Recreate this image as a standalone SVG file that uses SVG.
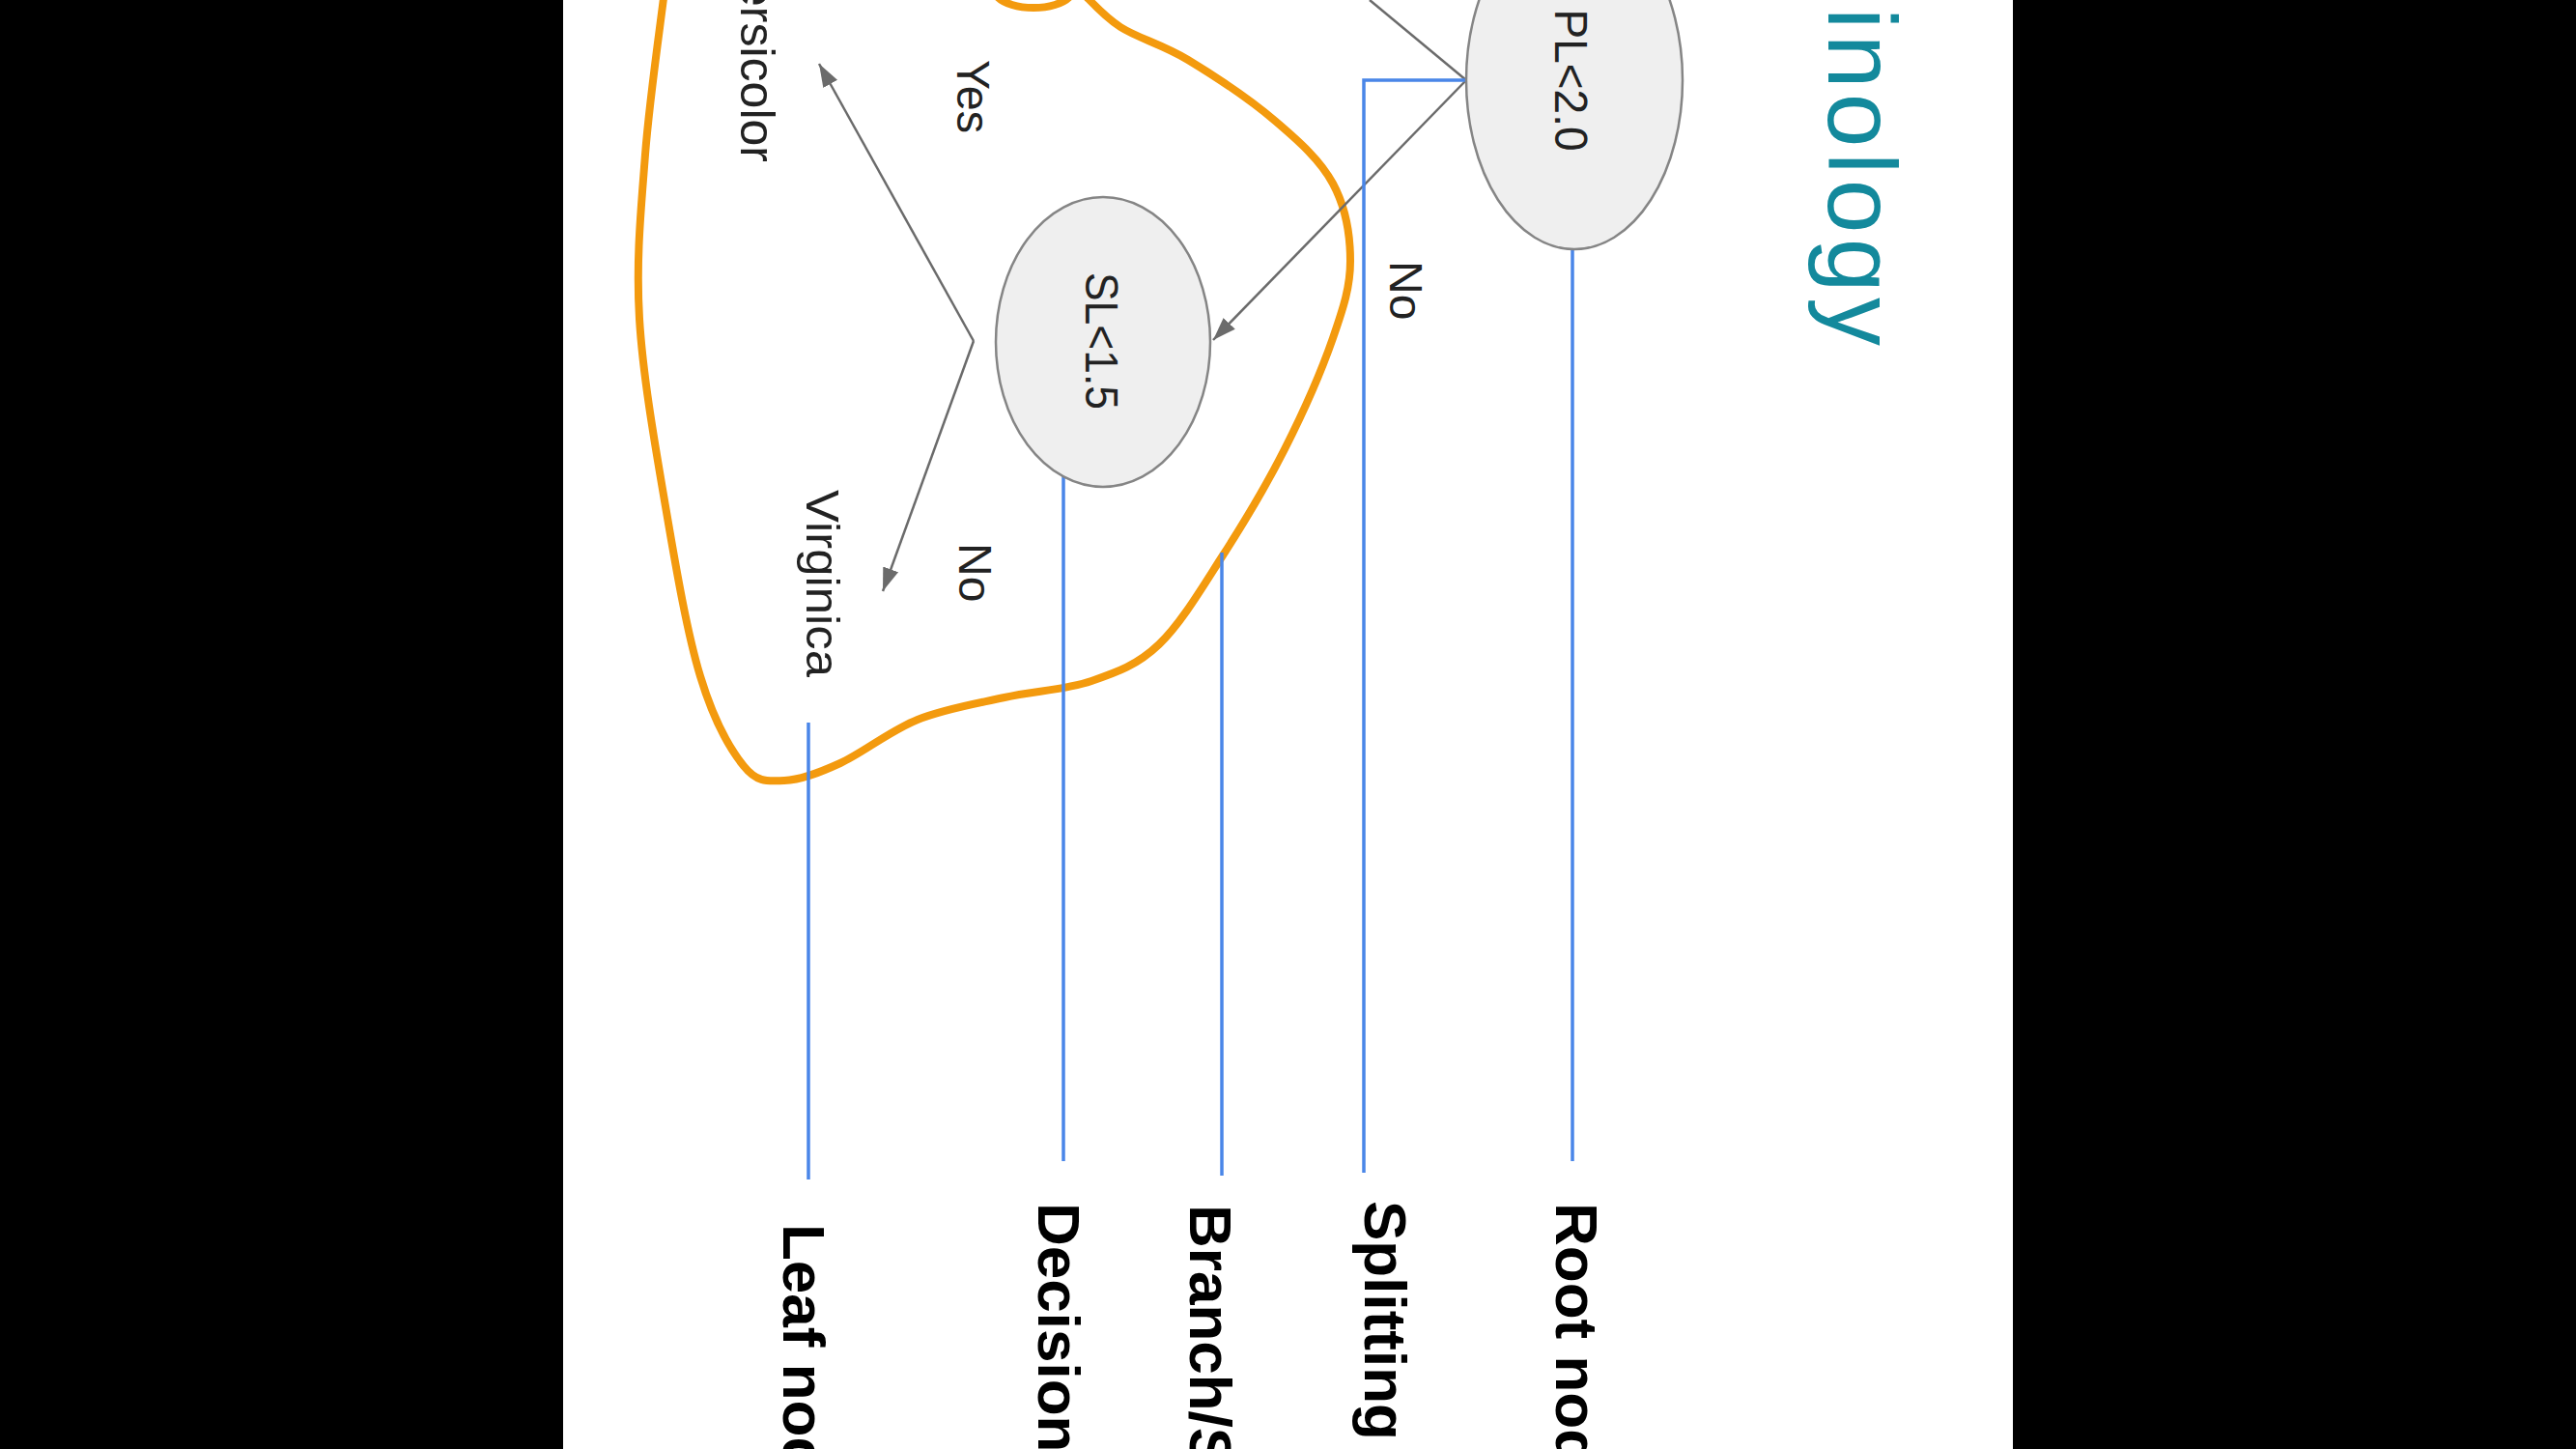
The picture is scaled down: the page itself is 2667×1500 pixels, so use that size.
<svg xmlns="http://www.w3.org/2000/svg" width="2667" height="1500" viewBox="0 0 2667 1500">
<defs>
<style>
.lbl{font-family:"Liberation Sans",Arial,sans-serif;font-size:48px;fill:#222;}
.big{font-family:"Liberation Sans",Arial,sans-serif;font-size:62px;font-weight:bold;fill:#000;}
.ttl{font-family:"Liberation Sans",Arial,sans-serif;font-size:100px;fill:#13899c;}
.node{fill:#efefef;stroke:#858585;stroke-width:2.5;}
.gray{fill:none;stroke:#6b6b6b;stroke-width:2.5;}
.blue{fill:none;stroke:#4a86e8;stroke-width:3.5;}
.orange{fill:none;stroke:#f39a0e;stroke-width:8;stroke-linecap:round;}
</style>
<marker id="arr" viewBox="0 0 10 10" refX="10" refY="5" markerWidth="24" markerHeight="24" markerUnits="userSpaceOnUse" orient="auto">
<path d="M0,1.5 L10,5 L0,8.5 z" fill="#6b6b6b"/>
</marker>
</defs>
<rect x="0" y="0" width="2667" height="1500" fill="#000"/>
<rect x="583" y="0" width="1501" height="1500" fill="#fff"/>

<g id="title">
<text class="ttl" transform="translate(1893,8) rotate(90)" textLength="350" lengthAdjust="spacing">inology</text>
</g>

<g id="highlight">
<path class="orange" d="M688,-10 C684.7,18.3 672.3,103.3 668,160 C663.7,216.7 658.3,268.3 662,330 C665.7,391.7 679.5,468.3 690,530 C700.5,591.7 711.7,656.2 725,700 C738.3,743.8 755.5,775 770,793 C784.5,811 795.3,808.5 812,808 C828.7,807.5 847,800.5 870,790 C893,779.5 921.7,756.3 950,745 C978.3,733.7 1010,728.7 1040,722 C1070,715.3 1103.3,714.2 1130,705 C1156.7,695.8 1177.3,688.7 1200,667 C1222.7,645.3 1244.3,608.7 1266,575 C1287.7,541.3 1311,502.5 1330,465 C1349,427.5 1368.7,382.5 1380,350 C1391.3,317.5 1398,296.7 1398,270 C1398,243.3 1393,214.2 1380,190 C1367,165.8 1345,146.3 1320,125 C1295,103.7 1256.7,78.2 1230,62 C1203.3,45.8 1178.3,39.7 1160,28 C1141.7,16.3 1126.7,-2 1120,-8"/>
<path class="orange" d="M1032,-4 C1046,12 1094,12 1108,-4"/>
</g>

<g id="connectors">
<line class="gray" x1="1518" y1="83" x2="1418" y2="0"/>
<line class="gray" x1="1518" y1="83" x2="1256" y2="352" marker-end="url(#arr)"/>
<line class="gray" x1="1008" y1="353" x2="848" y2="66" marker-end="url(#arr)"/>
<line class="gray" x1="1008" y1="353" x2="914" y2="612" marker-end="url(#arr)"/>
<line class="blue" x1="1628" y1="258" x2="1628" y2="1202"/>
<path class="blue" d="M1518,83 H1412 V1214"/>
<line class="blue" x1="1265" y1="572" x2="1265" y2="1217"/>
<line class="blue" x1="1101" y1="490" x2="1101" y2="1202"/>
<line class="blue" x1="837" y1="748" x2="837" y2="1221"/>
</g>

<g id="node-pl">
<ellipse class="node" cx="1630" cy="83" rx="112" ry="175"/>
<text class="lbl" text-anchor="middle" transform="translate(1610,83) rotate(90)" textLength="147" lengthAdjust="spacingAndGlyphs">PL&lt;2.0</text>
</g>

<g id="node-sl">
<ellipse class="node" cx="1142" cy="354" rx="111" ry="150"/>
<text class="lbl" text-anchor="middle" transform="translate(1124,353) rotate(90)" textLength="142" lengthAdjust="spacingAndGlyphs">SL&lt;1.5</text>
</g>

<g id="leaf-versicolor">
<text class="lbl" style="font-size:50px" text-anchor="end" transform="translate(767,168) rotate(90)">ersicolor</text>
</g>

<g id="leaf-virginica">
<text class="lbl" transform="translate(835,507) rotate(90)" textLength="194" lengthAdjust="spacingAndGlyphs">Virginica</text>
</g>

<g id="edge-labels">
<text class="lbl" transform="translate(991,62) rotate(90)" textLength="76" lengthAdjust="spacingAndGlyphs">Yes</text>
<text class="lbl" transform="translate(993,562) rotate(90)">No</text>
<text class="lbl" transform="translate(1439,270) rotate(90)">No</text>
</g>

<g id="term-labels">
<text class="big" transform="translate(1611,1245) rotate(90)">Root nod</text>
<text class="big" transform="translate(1413,1243) rotate(90)">Splitting</text>
<text class="big" transform="translate(1232,1247) rotate(90)">Branch/S</text>
<text class="big" transform="translate(1075,1245) rotate(90)">Decision</text>
<text class="big" transform="translate(811,1267) rotate(90)">Leaf nod</text>
</g>
</svg>
